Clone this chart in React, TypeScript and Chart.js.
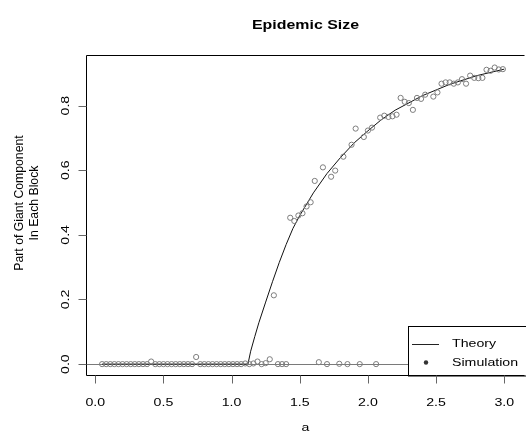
import { useEffect, useRef } from 'react';
import { Chart, registerables } from 'chart.js';

Chart.register(...registerables);

// Simulation: parameter a and part of giant component
const aValues: number[] = [
  0.05, 0.08, 0.11, 0.14, 0.17, 0.2, 0.23, 0.26, 0.29, 0.32,
  0.35, 0.38, 0.41, 0.44, 0.47, 0.5, 0.53, 0.56, 0.59, 0.62,
  0.65, 0.68, 0.71, 0.74, 0.77, 0.8, 0.83, 0.86, 0.89, 0.92,
  0.95, 0.98, 1.01, 1.04, 1.07, 1.1, 1.13, 1.16, 1.19, 1.22,
  1.25, 1.28, 1.31, 1.34, 1.37, 1.4, 1.43, 1.46, 1.49, 1.52,
  1.55, 1.58, 1.61, 1.64, 1.67, 1.7, 1.73, 1.76, 1.79, 1.82,
  1.85, 1.88, 1.91, 1.94, 1.97, 2.0, 2.03, 2.06, 2.09, 2.12,
  2.15, 2.18, 2.21, 2.24, 2.27, 2.3, 2.33, 2.36, 2.39, 2.42,
  2.45, 2.48, 2.51, 2.54, 2.57, 2.6, 2.63, 2.66, 2.69, 2.72,
  2.75, 2.78, 2.81, 2.84, 2.87, 2.9, 2.93, 2.96, 2.99,
];
const simValues: number[] = [
  0, 0, 0, 0, 0, 0, 0, 0, 0, 0,
  0, 0, 0.008, 0, 0, 0, 0, 0, 0, 0,
  0, 0, 0, 0.022, 0, 0, 0, 0, 0, 0,
  0, 0, 0, 0, 0, 0.002, 0, 0.002, 0.008, 0,
  0.003, 0.015, 0.213, 0, 0, 0, 0.453, 0.443, 0.46, 0.467,
  0.488, 0.501, 0.567, 0.006, 0.609, 0, 0.58, 0.599, 0.001, 0.642,
  0, 0.679, 0.729, 0, 0.703, 0.723, 0.732, 0, 0.763, 0.769,
  0.765, 0.767, 0.772, 0.824, 0.812, 0.808, 0.787, 0.824, 0.821, 0.834,
  0, 0.828, 0.841, 0.868, 0.872, 0.872, 0.868, 0.872, 0.882, 0.868,
  0.893, 0.886, 0.885, 0.886, 0.911, 0.908, 0.918, 0.912, 0.913,
];

// Theory curve
const theoryA: number[] = [0.05, 1.12, 1.14, 1.17, 1.2, 1.25, 1.3, 1.35, 1.4, 1.45, 1.5, 1.6, 1.7, 1.8, 1.9, 2.0, 2.1, 2.2, 2.4, 2.6, 2.8, 3.0];
const theoryValues: number[] = [0, 0, 0.04, 0.085, 0.128, 0.192, 0.255, 0.315, 0.37, 0.42, 0.46, 0.53, 0.59, 0.64, 0.685, 0.722, 0.757, 0.786, 0.831, 0.866, 0.893, 0.913];

const xTicks: number[] = [0, 0.5, 1, 1.5, 2, 2.5, 3];
const xTickLabels: string[] = ['0.0', '0.5', '1.0', '1.5', '2.0', '2.5', '3.0'];
const yTicks: number[] = [0, 0.2, 0.4, 0.6, 0.8];
const yTickLabels: string[] = ['0.0', '0.2', '0.4', '0.6', '0.8'];

const titleText = 'Epidemic Size';
const xTitle = 'a';
const yTitleLines: string[] = ['Part of Giant Component', 'In Each Block'];
const legendLabels: string[] = ['Theory', 'Simulation'];

const FONT = '"Liberation Sans", Arial, Helvetica, sans-serif';

function drawText(ctx: CanvasRenderingContext2D, s: string, x: number, y: number, size: number, opts: { bold?: boolean; rot?: boolean; align?: CanvasTextAlign; sx?: number; sy?: number } = {}) {
  ctx.save();
  ctx.translate(x, y);
  if (opts.rot) ctx.rotate(-Math.PI / 2);
  ctx.scale(opts.sx ?? 1.18, opts.sy ?? 0.965);
  ctx.font = `${opts.bold ? 'bold ' : ''}${size}px ${FONT}`;
  ctx.fillStyle = '#000';
  ctx.textAlign = opts.align || 'center';
  ctx.textBaseline = 'middle';
  ctx.fillText(s, 0, 0);
  ctx.restore();
}

const rPlugin = {
  id: 'rStyle',
  beforeDatasetsDraw(chart: any) {
    const { ctx, chartArea, scales } = chart;
    const y0 = Math.round(scales.y.getPixelForValue(0)) + 0.5;
    ctx.save();
    ctx.strokeStyle = '#7a7a7a';
    ctx.lineWidth = 1;
    ctx.beginPath();
    ctx.moveTo(chartArea.left, y0);
    ctx.lineTo(chartArea.right, y0);
    ctx.stroke();
    ctx.restore();
  },
  afterDraw(chart: any) {
    const { ctx, chartArea, scales } = chart;
    const xs = scales.x;
    const ys = scales.y;
    const L = Math.round(chartArea.left) + 0.5;
    const T = Math.round(chartArea.top) + 0.5;
    const B = Math.round(chartArea.bottom) - 0.5;
    const R = Math.round(chartArea.right) + 0.5;
    ctx.save();
    // legend
    const lgL = Math.round(xs.getPixelForValue(2.3)) - 1;
    const lgT = Math.round(ys.getPixelForValue(0.118));
    ctx.fillStyle = '#fff';
    ctx.fillRect(lgL, lgT, R - lgL + 5, B - lgT);
    ctx.strokeStyle = '#000';
    ctx.lineWidth = 1;
    ctx.strokeRect(lgL + 0.5, lgT + 0.5, R - lgL + 5, B - lgT);
    const rowY1 = lgT + 17.5;
    const rowY2 = lgT + 36.5;
    ctx.strokeStyle = '#222';
    ctx.beginPath();
    ctx.moveTo(lgL + 4, Math.round(rowY1) + 0.5);
    ctx.lineTo(lgL + 31, Math.round(rowY1) + 0.5);
    ctx.stroke();
    ctx.fillStyle = '#333';
    ctx.beginPath();
    ctx.arc(lgL + 18, rowY2, 2.2, 0, Math.PI * 2);
    ctx.fill();
    drawText(ctx, legendLabels[0], lgL + 44, rowY1, 12, { align: 'left' });
    drawText(ctx, legendLabels[1], lgL + 44, rowY2, 12, { align: 'left' });

    // box
    ctx.strokeStyle = '#000';
    ctx.lineWidth = 1;
    ctx.beginPath();
    ctx.moveTo(R + 3, T);
    ctx.lineTo(L, T);
    ctx.lineTo(L, B);
    ctx.lineTo(R + 3, B);
    ctx.stroke();

    // x ticks
    ctx.strokeStyle = '#666';
    ctx.beginPath();
    xTicks.forEach((v) => {
      const px = Math.round(xs.getPixelForValue(v)) + 0.5;
      ctx.moveTo(px, B);
      ctx.lineTo(px, B + 8);
    });
    ctx.stroke();
    xTicks.forEach((v, i) => {
      drawText(ctx, xTickLabels[i], xs.getPixelForValue(v), 403, 12);
    });
    // y ticks
    ctx.beginPath();
    yTicks.forEach((v) => {
      const py = Math.round(ys.getPixelForValue(v)) + 0.5;
      ctx.moveTo(L, py);
      ctx.lineTo(L - 8, py);
    });
    ctx.stroke();
    yTicks.forEach((v, i) => {
      drawText(ctx, yTickLabels[i], 66, ys.getPixelForValue(v), 12, { rot: true });
    });

    // titles
    drawText(ctx, titleText, (chartArea.left + 525) / 2, 25, 13.5, { bold: true });
    drawText(ctx, xTitle, (chartArea.left + 525) / 2, 428, 12);
    drawText(ctx, yTitleLines[0], 19.5, 203, 12, { rot: true, sx: 1.02, sy: 1.0 });
    drawText(ctx, yTitleLines[1], 35, 203, 12, { rot: true, sx: 1.02, sy: 1.0 });
    ctx.restore();
  },
};

export default function App() {
  const ref = useRef<HTMLCanvasElement>(null);
  useEffect(() => {
    if (!ref.current) return;
    const chart = new Chart(ref.current, {
      type: 'scatter',
      data: {
        datasets: [
          {
            label: 'Simulation',
            data: aValues.map((a, i) => ({ x: a, y: simValues[i] })),
            pointStyle: 'circle',
            pointRadius: 2.6,
            pointBorderWidth: 1,
            pointBorderColor: '#7d7d7d',
            pointBackgroundColor: 'rgba(0,0,0,0)',
            showLine: false,
            order: 1,
          },
          {
            label: 'Theory',
            type: 'line',
            data: theoryA.map((a, i) => ({ x: a, y: theoryValues[i] })),
            borderColor: '#111',
            borderWidth: 1,
            pointRadius: 0,
            tension: 0,
            fill: false,
            order: 2,
          } as any,
        ],
      },
      options: {
        animation: false,
        responsive: false,
        devicePixelRatio: 1,
        layout: { padding: { left: 86, top: 55, right: 0, bottom: 58 } },
        plugins: { legend: { display: false }, tooltip: { enabled: false }, title: { display: false } },
        scales: {
          x: { type: 'linear', display: false, min: -0.068, max: 3.123 },
          y: { type: 'linear', display: false, min: -0.0368, max: 0.9568 },
        },
      },
      plugins: [rPlugin],
    });
    return () => chart.destroy();
  }, []);
  return (
    <div style={{ position: 'fixed', left: 0, top: 0, width: 526, height: 434, background: '#fff' }}>
      <canvas ref={ref} width={526} height={434} style={{ display: 'block' }} />
    </div>
  );
}
